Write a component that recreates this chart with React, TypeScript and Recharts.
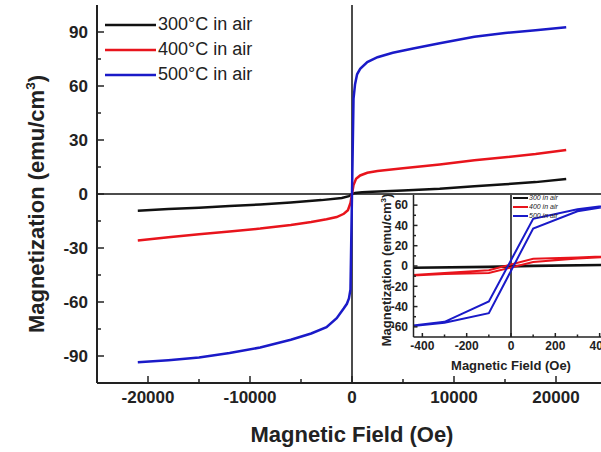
import React from 'react';
import { LineChart, Line, XAxis, YAxis, ReferenceLine, Legend, Label } from 'recharts';

// ---------- data ----------
const seriesNames = ['300°C in air', '400°C in air', '500°C in air'];
const insetNames = ['300 in air', '400 in air', '500 in air'];
const seriesColors = ['#111111', '#e8141c', '#1a1ac8'];

// main panel: [field (Oe), magnetization (emu/cm3)]
const main300: number[][] = [
  [-21000, -9.3], [-18000, -8.4], [-15000, -7.6], [-12000, -6.7], [-9000, -5.8], [-6000, -4.7],
  [-3000, -3.4], [-1000, -2.2], [-300, -1.2], [0, 0], [300, 0.6], [1000, 1.0], [2000, 1.3],
  [5000, 2.0], [8600, 2.9], [12000, 4.3], [15000, 5.4], [18000, 6.6], [21000, 8.3],
];
const main400: number[][] = [
  [-21000, -25.8], [-18000, -24], [-15000, -22.4], [-12000, -20.8], [-9000, -19.2], [-6000, -17.2],
  [-4000, -15.5], [-2500, -14], [-1500, -12.8], [-800, -11], [-400, -9], [-150, -5], [0, 0],
  [150, 5], [400, 8.5], [800, 10.3], [1500, 11.8], [2500, 12.8], [5000, 14.3], [8600, 16.4],
  [12000, 18.7], [15000, 20.4], [18000, 22.2], [21000, 24.5],
];
const main500: number[][] = [
  [-21000, -93.5], [-18000, -92.3], [-15000, -90.8], [-12000, -88.3], [-9000, -85.3], [-6000, -81],
  [-4000, -77.5], [-2500, -74], [-1500, -69], [-800, -63.5], [-500, -61], [-300, -58], [-150, -53],
  [0, 0], [150, 53], [300, 61], [500, 66.5], [800, 69.5], [1500, 73.3], [2500, 76], [4000, 78.5],
  [6000, 80.8], [8600, 83.8], [12000, 87.3], [15000, 89.4], [18000, 91], [21000, 92.6],
];

// inset: hysteresis loops, [field (Oe), magnetization]
const inset300: number[][] = [
  [-500, -2], [-100, -1.2], [100, -0.2], [500, 1],
  [500, 1.3], [100, 0.6], [-100, -0.6], [-500, -1.5],
];
const inset400: number[][] = [
  [-500, -10], [-300, -8], [-100, -6.8], [100, 4], [300, 7.5], [500, 9.8],
  [500, 10], [300, 8.5], [100, 7.2], [-100, -4.2], [-300, -7], [-500, -9.5],
];
const inset500: number[][] = [
  [-500, -60.5], [-300, -56], [-100, -46.5], [100, 37], [300, 54], [500, 61],
  [500, 61.5], [300, 56], [100, 46.5], [-100, -35], [-300, -55], [-500, -60],
];

const mainXTicks = [-20000, -15000, -10000, -5000, 0, 5000, 10000, 15000, 20000];
const mainYTicks = [-90, -75, -60, -45, -30, -15, 0, 15, 30, 45, 60, 75, 90];
const insetXTicks = [-400, -300, -200, -100, 0, 100, 200, 300, 400];
const insetYTicks = [-60, -50, -40, -30, -20, -10, 0, 10, 20, 30, 40, 50, 60];

const toPoints = (arr: number[][]) => arr.map(([x, y]) => ({ x, y }));

const FONT = '"Liberation Sans", Arial, sans-serif';
const AXIS = '#222';

type TickOpts = {
  side: 'left' | 'bottom';
  margin: number;
  majorLen: number;
  minorLen: number;
  majorStep: number;
  fontSize: number;
};

const makeTick = (o: TickOpts) => (props: any) => {
  const { x, y, payload } = props;
  const v = payload.value;
  const major = Math.abs(v % o.majorStep) < 1e-9;
  const len = major ? o.majorLen : o.minorLen;
  if (o.side === 'left') {
    const ax = x + o.margin;
    return (
      <g>
        <line x1={ax} x2={ax + len} y1={y} y2={y} stroke={AXIS} strokeWidth={1.5} />
        {major && (
          <text x={x} y={y} dy="0.355em" textAnchor="end" fontFamily={FONT} fontWeight="bold"
            fontSize={o.fontSize} fill="#222">{v}</text>
        )}
      </g>
    );
  }
  const ay = y - o.margin;
  return (
    <g>
      <line x1={x} x2={x} y1={ay} y2={ay - len} stroke={AXIS} strokeWidth={1.5} />
      {major && (
        <text x={x} y={y} dy="0.71em" textAnchor="middle" fontFamily={FONT} fontWeight="bold"
          fontSize={o.fontSize} fill="#222">{v}</text>
      )}
    </g>
  );
};

const MainLegend = () => (
  <div style={{ fontFamily: FONT, fontSize: 18, color: '#222', whiteSpace: 'nowrap' }}>
    {seriesNames.map((n, i) => (
      <div key={n} style={{ display: 'flex', alignItems: 'center', height: 25 }}>
        <svg width={53} height={6}><line x1={0} x2={51} y1={3} y2={3} stroke={seriesColors[i]} strokeWidth={2.5} /></svg>
        <span style={{ lineHeight: '25px' }}>{n}</span>
      </div>
    ))}
  </div>
);

const InsetLegend = () => (
  <div style={{ fontFamily: FONT, fontSize: 7, fontStyle: 'italic', color: '#222', whiteSpace: 'nowrap' }}>
    {insetNames.map((n, i) => (
      <div key={n} style={{ display: 'flex', alignItems: 'center', height: 9 }}>
        <svg width={16} height={4}><line x1={0} x2={15} y1={2} y2={2} stroke={seriesColors[i]} strokeWidth={2} /></svg>
        <span style={{ lineHeight: '9px' }}>{n}</span>
      </div>
    ))}
  </div>
);

const YTitle = ({ viewBox, dx, dyc, size, sup }: any) => {
  const cx = viewBox.x + dx;
  const cy = viewBox.y + viewBox.height / 2 + dyc;
  return (
    <text x={cx} y={cy} transform={`rotate(-90, ${cx}, ${cy})`} textAnchor="middle" fontFamily={FONT}
      fontWeight="bold" fontSize={size} fill="#222">
      Magnetization (emu/cm<tspan dy={-sup} fontSize={size * 0.62}>3</tspan><tspan dy={sup}>)</tspan>
    </text>
  );
};

const XTitle = ({ viewBox, off, size }: any) => (
  <text x={viewBox.x + viewBox.width / 2} y={viewBox.y + viewBox.height - off} textAnchor="middle"
    fontFamily={FONT} fontWeight="bold" fontSize={size} fill="#222">Magnetic Field (Oe)</text>
);

export default function App() {
  const mainSeries = [main300, main400, main500];
  const insetSeries = [inset300, inset400, inset500];
  return (
    <div style={{ position: 'absolute', left: 0, top: 0, width: 601, height: 452, overflow: 'hidden', background: '#fff' }}>
      <div style={{ position: 'absolute', left: 0, top: 0 }}>
        <LineChart width={615} height={452} margin={{ top: 5, right: 8, bottom: 0, left: 0 }}>
          <XAxis xAxisId="main" type="number" dataKey="x" domain={[-25000, 25000]} allowDataOverflow
            ticks={mainXTicks} interval={0} height={69} tickSize={0} tickMargin={8}
            axisLine={{ stroke: AXIS, strokeWidth: 2 }} tickLine={false}
            tick={makeTick({ side: 'bottom', margin: 8, majorLen: 7, minorLen: 4, majorStep: 10000, fontSize: 17 })}>
            <Label content={(p: any) => <XTitle {...p} off={10} size={22} />} />
          </XAxis>
          <XAxis xAxisId="top" orientation="top" type="number" domain={[-25000, 25000]} height={0}
            tick={false} tickLine={false} axisLine={{ stroke: AXIS, strokeWidth: 2 }} />
          <YAxis yAxisId="main" type="number" domain={[-105, 105]} allowDataOverflow ticks={mainYTicks}
            interval={0} width={97} tickSize={0} tickMargin={9}
            axisLine={{ stroke: AXIS, strokeWidth: 2 }} tickLine={false}
            tick={makeTick({ side: 'left', margin: 9, majorLen: 7, minorLen: 4, majorStep: 30, fontSize: 17 })}>
            <Label content={(p: any) => <YTitle {...p} dx={44} dyc={10} size={22} sup={9} />} />
          </YAxis>
          <ReferenceLine xAxisId="main" yAxisId="main" x={0} stroke="#111" strokeWidth={1.5} />
          <ReferenceLine xAxisId="main" yAxisId="main" y={0} stroke="#111" strokeWidth={1.5} />
          {mainSeries.map((s, i) => (
            <Line key={seriesNames[i]} xAxisId="main" yAxisId="main" data={toPoints(s)} dataKey="y"
              name={seriesNames[i]} type="linear" stroke={seriesColors[i]} strokeWidth={2.5} dot={false}
              isAnimationActive={false} />
          ))}
          <Legend verticalAlign="middle" align="center" layout="vertical" content={() => <MainLegend />}
            wrapperStyle={{ left: 105, top: 12, width: 'auto', height: 'auto' }} />
        </LineChart>
      </div>
      <div style={{ position: 'absolute', left: 370, top: 190 }}>
        <LineChart width={245} height={190} margin={{ top: 5, right: 6.5, bottom: 0, left: 0 }}>
          <XAxis xAxisId="in" type="number" dataKey="x" domain={[-440, 440]} allowDataOverflow
            ticks={insetXTicks} interval={0} height={43} tickSize={0} tickMargin={4}
            axisLine={{ stroke: AXIS, strokeWidth: 1.5 }} tickLine={false}
            tick={makeTick({ side: 'bottom', margin: 4, majorLen: 4, minorLen: 2.5, majorStep: 200, fontSize: 12 })}>
            <Label content={(p: any) => <XTitle {...p} off={10} size={13} />} />
          </XAxis>
          <XAxis xAxisId="intop" orientation="top" type="number" domain={[-440, 440]} height={0}
            tick={false} tickLine={false} axisLine={{ stroke: AXIS, strokeWidth: 1.5 }} />
          <YAxis yAxisId="in" type="number" domain={[-70, 70]} allowDataOverflow ticks={insetYTicks}
            interval={0} width={43.5} tickSize={0} tickMargin={5.5}
            axisLine={{ stroke: AXIS, strokeWidth: 1.5 }} tickLine={false}
            tick={makeTick({ side: 'left', margin: 5.5, majorLen: 4, minorLen: 2.5, majorStep: 20, fontSize: 12 })}>
            <Label content={(p: any) => <YTitle {...p} dx={21} dyc={4} size={13} sup={5} />} />
          </YAxis>
          <ReferenceLine xAxisId="in" yAxisId="in" x={0} stroke="#111" strokeWidth={1.5} />
          {insetSeries.map((s, i) => (
            <Line key={insetNames[i]} xAxisId="in" yAxisId="in" data={toPoints(s)} dataKey="y"
              name={insetNames[i]} type="linear" stroke={seriesColors[i]} strokeWidth={2} dot={false}
              isAnimationActive={false} />
          ))}
          <Legend verticalAlign="middle" align="center" layout="vertical" content={() => <InsetLegend />}
            wrapperStyle={{ left: 143, top: 3, width: 'auto', height: 'auto' }} />
        </LineChart>
      </div>
    </div>
  );
}
